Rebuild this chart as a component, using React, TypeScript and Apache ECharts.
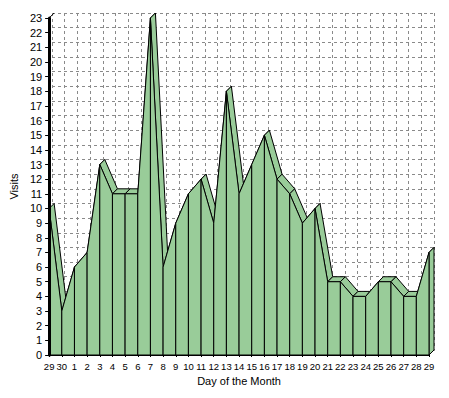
import React, { useEffect, useRef } from "react";
import * as echarts from "echarts";

const categories = [
  "29", "30", "1", "2", "3", "4", "5", "6", "7", "8", "9", "10", "11", "12", "13", "14",
  "15", "16", "17", "18", "19", "20", "21", "22", "23", "24", "25", "26", "27", "28", "29",
];
const visits = [
  10, 3, 6, 7, 13, 11, 11, 11, 23, 6, 9, 11, 12, 9, 18, 11,
  13, 15, 12, 11, 9, 10, 5, 5, 4, 4, 5, 5, 4, 4, 7,
];
const yMin = 0;
const yMax = 23;

const DEPTH = 5;
const FILL = "#99CC99";
const FONT = "Liberation Sans, Arial, sans-serif";

export default function App() {
  const ref = useRef<HTMLDivElement>(null);
  useEffect(() => {
    if (!ref.current) return;
    const chart = echarts.init(ref.current, null, { renderer: "svg" });
    const n = visits.length;
    const data = visits.map((v, i) => [i, v]);

    const topFaces = (params: any, api: any) => {
      const i = params.dataIndex;
      const p = api.coord([i, visits[i]]);
      const b = api.coord([i, yMin]);
      const children: any[] = [];
      if (i === 0) {
        const t = api.coord([0, yMax]);
        children.push({
          type: "line",
          shape: { x1: t[0], y1: t[1], x2: t[0] + DEPTH, y2: t[1] - DEPTH },
          style: { stroke: "#000", lineWidth: 1 },
        });
      }
      if (i < n - 1) {
        const q = api.coord([i + 1, visits[i + 1]]);
        children.push({
          type: "polygon",
          shape: {
            points: [
              [p[0], p[1]],
              [q[0], q[1]],
              [q[0] + DEPTH, q[1] - DEPTH],
              [p[0] + DEPTH, p[1] - DEPTH],
            ],
          },
          style: { fill: FILL, stroke: "#000", lineWidth: 1 },
        });
      } else {
        children.push({
          type: "polygon",
          shape: {
            points: [
              [p[0], p[1]],
              [p[0] + DEPTH, p[1] - DEPTH],
              [b[0] + DEPTH, b[1] - DEPTH],
              [b[0], b[1]],
            ],
          },
          style: { fill: FILL, stroke: "#000", lineWidth: 1 },
        });
      }
      return { type: "group", children };
    };

    const frontFaces = (params: any, api: any) => {
      const i = params.dataIndex;
      if (i >= n - 1) return { type: "group", children: [] };
      const p = api.coord([i, visits[i]]);
      const q = api.coord([i + 1, visits[i + 1]]);
      const bp = api.coord([i, yMin]);
      const bq = api.coord([i + 1, yMin]);
      return {
        type: "polygon",
        shape: {
          points: [
            [p[0], p[1]],
            [q[0], q[1]],
            [bq[0], bq[1]],
            [bp[0], bp[1]],
          ],
        },
        style: { fill: FILL, stroke: "#000", lineWidth: 1 },
      };
    };

    const dashed = { show: true, lineStyle: { color: "#8a8a8a", type: [3, 3], width: 1 } };

    chart.setOption({
      animation: false,
      backgroundColor: "#fff",
      textStyle: { fontFamily: FONT },
      grid: [
        { left: 47, right: 20, top: 18, bottom: 43 },
        { left: 47 + DEPTH, right: 20 - DEPTH, top: 18 - DEPTH, bottom: 43 + DEPTH },
      ],
      xAxis: [
        {
          type: "category",
          gridIndex: 0,
          data: categories,
          boundaryGap: false,
          axisLine: { show: true, lineStyle: { color: "#000", width: 1 } },
          axisTick: { show: true, length: 2, lineStyle: { color: "#000" } },
          axisLabel: { interval: 0, margin: 6, color: "#000", fontSize: 9.5, fontFamily: FONT },
          splitLine: { show: false },
          name: "Day of the Month",
          nameLocation: "middle",
          nameGap: 20,
          nameTextStyle: { color: "#000", fontSize: 11, fontFamily: FONT },
          z: 5,
        },
        {
          type: "value",
          gridIndex: 1,
          min: 0,
          max: categories.length - 1,
          interval: 1,
          position: "top",
          axisLine: { show: true, lineStyle: { color: "#000", width: 1 } },
          axisTick: { show: false },
          axisLabel: { show: false },
          splitLine: dashed,
          z: 0,
        },
      ],
      yAxis: [
        {
          type: "value",
          gridIndex: 0,
          min: yMin,
          max: yMax,
          interval: 1,
          axisLine: { show: true, lineStyle: { color: "#000", width: 3 } },
          axisTick: { show: true, length: 4, lineStyle: { color: "#000" } },
          axisLabel: { margin: 7, color: "#000", fontSize: 11, fontFamily: FONT },
          splitLine: { show: false },
          name: "Visits",
          nameLocation: "middle",
          nameGap: 22,
          nameTextStyle: { color: "#000", fontSize: 11, fontFamily: FONT },
          z: 10,
        },
        {
          type: "value",
          gridIndex: 1,
          min: yMin,
          max: yMax,
          interval: 1,
          axisLine: { show: false },
          axisTick: { show: false },
          axisLabel: { show: false },
          splitLine: dashed,
          z: 0,
        },
      ],
      series: [
        {
          type: "custom",
          xAxisIndex: 0,
          yAxisIndex: 0,
          data,
          renderItem: topFaces,
          encode: { x: 0, y: 1 },
          z: 3,
          silent: true,
        },
        {
          type: "custom",
          xAxisIndex: 0,
          yAxisIndex: 0,
          data,
          renderItem: frontFaces,
          encode: { x: 0, y: 1 },
          z: 4,
          silent: true,
        },
      ],
    });
    return () => chart.dispose();
  }, []);
  return (
    <div
      ref={ref}
      style={{ position: "absolute", left: 0, top: 0, width: 449, height: 398 }}
    />
  );
}
